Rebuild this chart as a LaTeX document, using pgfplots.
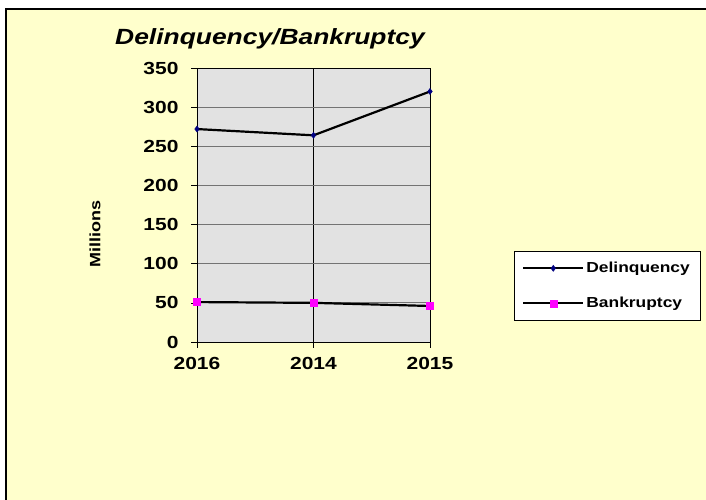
\documentclass[border=0pt]{standalone}
\usepackage{pgfplots}
\pgfplotsset{compat=1.18}
\usepackage{fontspec}
\setmainfont{Liberation Sans}[FakeStretch=1.2]
\definecolor{bgyellow}{HTML}{FFFFCC}
\definecolor{plotgray}{HTML}{E2E2E2}
\definecolor{navy}{HTML}{000080}
\definecolor{magentac}{HTML}{FF00FF}
\begin{document}
\begin{tikzpicture}
\useasboundingbox (0pt,0pt) rectangle (706pt,500pt);
\fill[white] (0pt,0pt) rectangle (706pt,500pt);
\fill[bgyellow] (6pt,0pt) rectangle (706pt,491pt);
\draw[black,line width=2pt] (6pt,0pt) -- (6pt,491pt) -- (706pt,491pt);
\node[font=\fontsize{22}{24}\selectfont\bfseries\itshape] at (270pt,461pt) {Delinquency/Bankruptcy};
\node[font=\fontsize{15}{17}\selectfont\bfseries,rotate=90] at (95pt,266pt) {Millions};
\begin{axis}[
  at={(197pt,158pt)}, anchor=origin,
  scale only axis, width=233pt, height=274pt,
  xmin=0, xmax=2, ymin=0, ymax=350,
  xtick={0,1,2}, xticklabels={2016,2014,2015},
  ytick={0,50,...,350},
  axis background/.style={fill=plotgray},
  axis line style={black, line width=0.8pt},
  ymajorgrids, xmajorgrids,
  y grid style={gray!90!black, line width=0.9pt},
  x grid style={black, line width=0.6pt},
  tick align=outside, tick pos=left,
  major tick length=6pt,
  tick style={black, line width=0.6pt},
  tick label style={font=\fontsize{17.5}{20}\selectfont\bfseries},
  /pgf/number format/assume math mode=true,
  yticklabel style={xshift=-9pt},
  xticklabel style={yshift=-6pt},
  clip=false,
  legend style={at={(1.36,0.332)}, anchor=north west, draw=black, fill=white,
    font=\fontsize{14.5}{16}\selectfont\bfseries, row sep=19pt,
    inner xsep=8pt, inner ysep=9pt, line width=0.6pt},
  legend cell align=left,
  legend image code/.code={
    \draw[#1, mark repeat=2, mark phase=2] plot coordinates {(0pt,0pt) (30pt,0pt) (60pt,0pt)};
  },
]
\addplot[black, line width=2.2pt, mark=diamond*, mark size=3pt, mark options={fill=navy, draw=navy, line width=0.5pt}]
  coordinates {(0,272) (1,264) (2,320)};
\addlegendentry{Delinquency}
\addplot[black, line width=2.2pt, mark=square*, mark size=3.5pt, mark options={fill=magentac, draw=magentac, line width=0.5pt}]
  coordinates {(0,51) (1,50) (2,46)};
\addlegendentry{Bankruptcy}
\end{axis}
\end{tikzpicture}
\end{document}
